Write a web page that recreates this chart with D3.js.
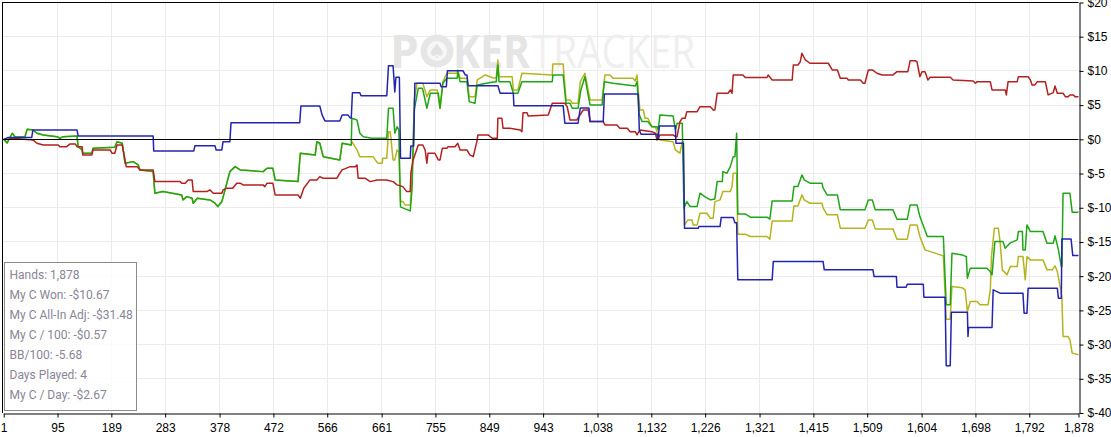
<!DOCTYPE html>
<html>
<head>
<meta charset="utf-8">
<script src="https://cdn.jsdelivr.net/npm/d3@7/dist/d3.min.js"></script>
<style>
html,body{margin:0;padding:0;background:#fff;}
svg{display:block;}
</style>
</head>
<body>
<svg id="chart" width="1111" height="437"></svg>
<script>
// ---------------- DATA ----------------
const xTickValues = [1,95,189,283,378,472,566,661,755,849,943,1038,1132,1226,1321,1415,1509,1604,1698,1792,1878];
const yTickValues = [20,15,10,5,0,-5,-10,-15,-20,-25,-30,-35,-40];

const statsLines = [
  "Hands: 1,878",
  "My C Won: -$10.67",
  "My C All-In Adj: -$31.48",
  "My C / 100: -$0.57",
  "BB/100: -5.68",
  "Days Played: 4",
  "My C / Day: -$2.67"
];

// green: net won
const wonSeries = [[1,0],[7,-0.52],[16,0.89],[21,0.35],[38,0.35],[42,1.48],[52,1.37],[59,0.89],[70,0.64],[94,0.39],[99,0.16],[105,0.39],[129,0.50],[131,-1.07],[138,-1.55],[139,-2.03],[155,-2.03],[157,-1.30],[195,-1.15],[199,-0.34],[208,-0.57],[213,-3.49],[227,-3.26],[236,-3.74],[239,-4.47],[262,-4.72],[265,-7.87],[279,-7.64],[312,-8.12],[314,-8.85],[321,-8.37],[330,-8.61],[332,-9.34],[339,-8.61],[361,-8.85],[370,-9.34],[375,-9.83],[382,-9.10],[396,-4.72],[405,-3.99],[414,-4.47],[454,-4.72],[461,-4.22],[471,-4.22],[475,-5.93],[515,-6.18],[519,-2.03],[545,-2.28],[548,-0.34],[553,-0.57],[559,-2.53],[588,-3.01],[592,-0.57],[608,-0.82],[609,3.08],[618,2.83],[623,0.89],[629,0.39],[644,0.16],[670,0.16],[673,4.54],[681,4.54],[684,0.89],[688,1.85],[691,1.37],[694,-9.88],[702,-10.17],[711,-10.46],[714,-7.39],[718,4.29],[725,7.47],[732,7.47],[733,7.22],[740,4.54],[746,6.73],[760,6.73],[763,4.54],[768,8.20],[775,8.92],[793,8.92],[794,9.89],[798,8.43],[810,8.43],[814,5.51],[824,5.27],[828,7.95],[856,8.39],[861,8.39],[864,10.87],[866,8.43],[885,8.43],[891,6.73],[899,6.73],[906,8.43],[959,8.43],[960,9.41],[978,9.41],[983,5.27],[990,5.27],[994,4.54],[1004,4.54],[1009,7.22],[1016,9.16],[1020,7.22],[1025,5.03],[1046,5.03],[1050,8.43],[1065,8.20],[1104,7.80],[1107,8.43],[1111,3.57],[1116,2.59],[1126,2.59],[1133,1.85],[1142,1.85],[1144,1.37],[1147,3.57],[1170,3.42],[1174,1.37],[1177,2.35],[1186,2.35],[1189,-10.02],[1194,-9.10],[1200,-9.83],[1212,-9.83],[1217,-7.87],[1226,-8.42],[1235,-8.85],[1243,-8.71],[1247,-6.18],[1256,-6.18],[1257,-4.72],[1264,-4.95],[1270,-3.99],[1275,-2.53],[1278,-2.53],[1281,0.89],[1283,-10.90],[1296,-10.90],[1305,-11.38],[1334,-11.38],[1339,-11.67],[1343,-9.00],[1378,-9.00],[1381,-6.91],[1388,-6.91],[1395,-5.20],[1399,-5.93],[1409,-6.41],[1430,-6.41],[1432,-7.14],[1439,-8.12],[1457,-8.12],[1462,-10.31],[1505,-10.31],[1511,-8.85],[1518,-8.85],[1523,-10.31],[1554,-10.31],[1561,-11.67],[1579,-11.67],[1584,-9.58],[1596,-9.58],[1601,-11.29],[1614,-14.21],[1642,-14.21],[1647,-24.19],[1654,-24.19],[1657,-16.64],[1675,-16.89],[1682,-17.14],[1684,-20.29],[1689,-18.83],[1718,-18.83],[1724,-19.33],[1727,-19.81],[1732,-14.94],[1746,-14.94],[1750,-15.91],[1759,-15.13],[1771,-14.70],[1773,-13.48],[1780,-13.48],[1781,-16.16],[1785,-16.16],[1788,-12.51],[1794,-13.48],[1816,-13.48],[1823,-15.18],[1834,-15.18],[1837,-14.11],[1843,-16.16],[1848,-18.60],[1849,-18.60],[1851,-7.87],[1863,-7.87],[1867,-10.65],[1878,-10.67]];

// yellow: all-in adjusted
const allInSeries = [[1,0],[7,-0.52],[16,0.89],[21,0.35],[38,0.35],[42,1.48],[52,1.37],[59,0.89],[70,0.64],[94,0.39],[99,0.16],[105,0.39],[129,0.50],[131,-1.07],[138,-1.55],[139,-2.03],[155,-2.03],[157,-1.30],[195,-1.15],[199,-0.34],[208,-0.57],[213,-3.49],[227,-3.26],[236,-3.74],[239,-4.47],[262,-4.72],[265,-7.87],[279,-7.64],[312,-8.12],[314,-8.85],[321,-8.37],[330,-8.61],[332,-9.34],[339,-8.61],[361,-8.85],[370,-9.34],[375,-9.83],[382,-9.10],[396,-4.72],[405,-3.99],[414,-4.47],[454,-4.72],[461,-4.22],[471,-4.22],[475,-5.93],[515,-6.18],[519,-2.03],[545,-2.28],[548,-0.34],[553,-0.57],[559,-2.53],[588,-3.01],[592,-0.57],[608,-0.82],[609,-0.34],[618,-1.55],[623,-2.53],[646,-2.53],[650,-3.01],[655,-3.49],[662,-3.49],[663,-2.76],[670,-2.76],[673,1.12],[676,1.12],[681,-3.01],[684,-3.01],[688,-1.55],[691,-1.84],[694,-9.10],[698,-9.10],[702,-9.58],[711,-9.58],[714,-5.93],[718,5.76],[723,8.20],[733,8.20],[740,6.24],[746,7.22],[758,7.22],[763,4.54],[768,8.43],[775,9.66],[793,9.66],[794,10.14],[798,8.92],[810,8.92],[814,6.24],[824,6.24],[828,8.68],[842,9.41],[856,8.97],[861,8.97],[864,11.60],[866,9.16],[889,9.16],[891,7.22],[899,7.22],[906,9.66],[959,9.41],[960,11.02],[978,11.02],[983,5.76],[990,5.76],[994,5.27],[1004,5.27],[1008,8.43],[1016,9.66],[1020,7.95],[1025,5.76],[1046,5.76],[1051,9.41],[1060,9.41],[1065,8.92],[1100,8.92],[1104,8.53],[1107,9.41],[1112,4.29],[1118,4.29],[1121,3.08],[1126,3.08],[1133,1.85],[1139,1.85],[1147,-0.09],[1170,-0.34],[1174,-1.55],[1182,-2.03],[1186,-0.34],[1188,-0.34],[1190,-12.51],[1196,-11.78],[1203,-11.78],[1205,-12.51],[1212,-12.51],[1217,-10.80],[1229,-10.80],[1235,-11.53],[1240,-11.53],[1243,-9.10],[1252,-8.85],[1257,-7.64],[1270,-7.64],[1273,-6.91],[1275,-4.95],[1281,-4.95],[1283,-13.86],[1296,-13.86],[1305,-14.21],[1334,-14.21],[1339,-14.59],[1343,-11.92],[1378,-11.92],[1381,-9.73],[1388,-9.73],[1395,-8.12],[1399,-8.85],[1409,-9.34],[1430,-9.34],[1432,-10.02],[1439,-11.04],[1457,-11.04],[1462,-12.99],[1505,-12.99],[1511,-11.78],[1518,-11.78],[1523,-13.09],[1554,-13.09],[1561,-14.59],[1579,-14.59],[1584,-12.51],[1596,-12.51],[1601,-14.21],[1610,-16.16],[1642,-17.03],[1647,-26.28],[1654,-26.28],[1657,-21.52],[1675,-21.71],[1680,-22.00],[1684,-25.17],[1689,-23.71],[1701,-23.71],[1706,-24.19],[1720,-24.19],[1724,-22.00],[1726,-17.14],[1731,-12.99],[1738,-12.99],[1741,-14.94],[1745,-19.08],[1753,-19.81],[1759,-18.60],[1771,-18.60],[1773,-17.14],[1781,-17.14],[1785,-20.54],[1788,-17.14],[1794,-17.62],[1816,-17.62],[1823,-19.08],[1832,-19.08],[1837,-18.50],[1841,-19.33],[1846,-21.52],[1849,-23.10],[1851,-28.82],[1860,-28.82],[1863,-29.31],[1867,-31.25],[1878,-31.48]];

// red: non-showdown
const nonShowdownSeries = [[1,0],[12,0.06],[16,0.16],[42,-0.04],[52,-0.09],[59,-0.57],[70,-0.82],[96,-0.82],[99,-1.07],[111,-1.07],[117,-0.67],[126,-0.67],[129,-1.07],[138,-1.07],[139,-2.28],[155,-2.28],[157,-1.55],[187,-1.55],[190,-2.03],[195,-2.03],[199,-0.82],[208,-0.82],[215,-3.99],[234,-3.99],[239,-4.47],[262,-4.47],[265,-6.18],[309,-6.18],[312,-6.41],[318,-6.41],[323,-5.93],[330,-5.93],[332,-7.64],[356,-7.64],[361,-7.39],[367,-7.87],[382,-7.87],[384,-7.39],[391,-7.14],[401,-7.14],[408,-6.41],[414,-6.41],[419,-6.66],[454,-6.66],[457,-6.91],[461,-6.41],[471,-6.41],[475,-8.12],[515,-8.12],[519,-8.61],[525,-7.14],[536,-5.93],[548,-5.93],[553,-5.45],[559,-5.68],[583,-5.68],[588,-4.95],[592,-4.47],[606,-3.99],[615,-3.99],[618,-3.74],[620,-5.68],[632,-5.68],[641,-6.18],[653,-5.93],[670,-5.93],[681,-6.18],[688,-6.66],[698,-6.91],[705,-7.64],[711,-7.64],[712,-4.95],[716,-3.01],[725,-0.82],[733,-0.82],[737,-1.55],[740,-3.49],[742,-2.03],[754,-2.03],[760,-3.01],[763,-3.01],[767,-1.30],[775,-1.30],[777,-1.07],[789,-1.07],[794,-0.57],[798,-1.55],[810,-1.55],[815,-2.28],[821,-2.53],[828,-0.09],[829,0.64],[847,0.64],[854,0.16],[863,0.16],[864,3.08],[871,3.08],[873,1.62],[885,1.62],[903,1.37],[906,1.12],[908,3.90],[915,3.90],[917,3.42],[952,3.57],[959,5.27],[981,5.27],[985,4.78],[990,2.83],[1002,2.83],[1013,4.29],[1022,4.29],[1025,2.59],[1048,2.59],[1051,2.10],[1072,2.10],[1077,1.62],[1090,1.62],[1095,1.12],[1104,1.12],[1107,0.64],[1112,1.37],[1133,1.12],[1139,0.89],[1142,-0.09],[1147,0.64],[1170,0.64],[1174,0.39],[1177,0.39],[1182,2.59],[1186,3.08],[1191,3.08],[1194,4.05],[1212,4.05],[1217,4.78],[1235,4.78],[1240,4.29],[1243,4.29],[1247,6.73],[1266,6.73],[1270,7.22],[1273,6.73],[1275,9.41],[1292,9.41],[1296,9.04],[1334,9.04],[1336,9.41],[1343,8.68],[1378,8.68],[1380,10.87],[1388,10.87],[1392,11.31],[1395,12.58],[1401,11.60],[1409,11.12],[1441,11.12],[1448,10.14],[1457,10.14],[1462,8.92],[1474,8.92],[1476,8.68],[1497,8.68],[1502,8.20],[1505,8.20],[1511,10.14],[1518,10.14],[1526,9.66],[1535,9.41],[1554,9.41],[1561,9.89],[1580,9.89],[1584,11.50],[1593,11.50],[1596,11.31],[1601,9.16],[1605,9.89],[1610,9.89],[1615,8.68],[1619,9.07],[1654,9.07],[1659,8.68],[1694,8.53],[1698,8.20],[1701,8.43],[1724,8.43],[1727,7.22],[1750,7.22],[1752,6.49],[1755,8.43],[1771,8.43],[1773,9.16],[1790,9.16],[1794,8.68],[1797,7.95],[1802,7.95],[1806,8.43],[1820,8.43],[1825,6.49],[1834,6.82],[1837,7.80],[1841,6.73],[1851,6.73],[1855,6.24],[1860,6.24],[1863,6.49],[1869,6.49],[1872,6.24],[1878,6.24]];

// blue: showdown
const showdownSeries = [[1,0],[9,0.28],[50,0.28],[52,1.37],[129,1.37],[131,0.50],[262,0.50],[263,-1.69],[333,-1.69],[335,-0.92],[370,-0.92],[372,-1.55],[382,-1.55],[384,-0.34],[396,-0.34],[398,2.44],[518,2.44],[520,4.88],[553,4.88],[557,3.57],[562,2.69],[588,2.69],[592,3.57],[602,3.57],[606,3.13],[608,3.13],[610,6.82],[623,6.82],[625,6.38],[670,6.38],[673,10.77],[681,10.77],[684,6.92],[686,9.07],[692,9.07],[694,-2.76],[711,-2.76],[712,-0.96],[717,-0.96],[719,8.20],[763,8.20],[765,7.70],[774,7.70],[776,10.04],[803,10.04],[807,9.41],[810,9.41],[812,7.85],[864,7.85],[868,6.73],[891,6.73],[892,4.92],[978,4.92],[981,2.35],[1004,2.35],[1008,4.59],[1023,4.59],[1025,2.59],[1048,2.59],[1050,6.63],[1109,6.63],[1111,1.37],[1114,0.74],[1142,0.74],[1144,0.02],[1146,1.96],[1174,1.96],[1175,-0.57],[1188,-0.57],[1190,-12.99],[1214,-12.99],[1215,-12.75],[1252,-12.75],[1254,-11.44],[1275,-11.44],[1278,-12.21],[1281,-12.21],[1283,-20.54],[1343,-20.54],[1345,-17.87],[1432,-17.87],[1434,-19.08],[1519,-19.08],[1521,-20.06],[1560,-20.06],[1561,-21.61],[1577,-21.61],[1579,-21.17],[1607,-21.17],[1608,-23.07],[1645,-23.07],[1647,-33.10],[1654,-33.10],[1656,-25.26],[1684,-25.26],[1685,-28.82],[1686,-27.51],[1727,-27.51],[1729,-22.00],[1741,-22.48],[1781,-22.48],[1783,-25.41],[1788,-25.41],[1790,-21.75],[1841,-21.75],[1843,-23.21],[1848,-23.21],[1849,-14.55],[1865,-14.55],[1868,-16.99],[1878,-16.99]];

// ---------------- DRAW ----------------
const svg = d3.select("#chart");
const plotLeft = 3.7, plotRight = 1078.5, plotTop = 2.5, plotBottom = 413;

const x = d3.scaleLinear().domain([1, 1878]).range([plotLeft, plotRight]);
const y = d3.scaleLinear().domain([-40, 20]).range([plotBottom, plotTop]);
const snap = v => Math.round(v) + 0.5;

// grid
const grid = svg.append("g");
grid.selectAll("line.h").data(yTickValues.filter(v => v !== 20 && v !== -40 && v !== 0)).join("line")
  .attr("x1", 2.5).attr("x2", plotRight).attr("y1", d => snap(y(d) - 0.5)).attr("y2", d => snap(y(d) - 0.5))
  .attr("stroke", "#ebebeb").attr("stroke-width", 1);
grid.selectAll("line.v").data(xTickValues.slice(1, -1)).join("line")
  .attr("x1", d => snap(x(d) - 0.5)).attr("x2", d => snap(x(d) - 0.5)).attr("y1", 2.5).attr("y2", plotBottom)
  .attr("stroke", "#ebebeb").attr("stroke-width", 1);

// watermark
const wm = svg.append("g").attr("fill", "#e5e5e5").style("font-family", "'Open Sans', 'DejaVu Sans', sans-serif");
wm.append("text").attr("x", 390).attr("y", 68).style("font-size", "46px").style("font-weight", "700").text("P");
wm.append("circle").attr("cx", 437).attr("cy", 51).attr("r", 16.5).attr("fill", "#e6e6e6");
wm.append("circle").attr("cx", 437).attr("cy", 51).attr("r", 10).attr("fill", "#f7f7f7");
wm.append("text").attr("x", 437).attr("y", 58).attr("text-anchor", "middle").style("font-size", "20px").attr("fill", "#e2e2e2").text("\u2660");
wm.append("text").attr("x", 453).attr("y", 68).style("font-size", "46px").style("font-weight", "700")
  .attr("textLength", 77).attr("lengthAdjust", "spacingAndGlyphs").text("KER");
wm.append("text").attr("x", 532).attr("y", 68).style("font-size", "46px").style("font-weight", "400").attr("fill", "#efefef")
  .attr("textLength", 163).attr("lengthAdjust", "spacingAndGlyphs").text("TRACKER");

// series lines
const line = d3.line().x(d => x(d[0])).y(d => y(d[1]));
const series = [
  {data: allInSeries, color: "#b4b420"},
  {data: wonSeries, color: "#20a516"},
  {data: nonShowdownSeries, color: "#b32020"},
  {data: showdownSeries, color: "#2424b0"}
];
svg.append("g").selectAll("path").data(series).join("path")
  .attr("d", d => line(d.data))
  .attr("fill", "none").attr("stroke", d => d.color).attr("stroke-width", 1.5)
  .attr("stroke-linejoin", "round");

// zero line
svg.append("line").attr("x1", 2.5).attr("x2", plotRight).attr("y1", snap(y(0) - 0.5)).attr("y2", snap(y(0) - 0.5))
  .attr("stroke", "#000").attr("stroke-width", 1);

// frame
svg.append("line").attr("x1", 2.5).attr("x2", 2.5).attr("y1", 2).attr("y2", plotBottom).attr("stroke", "#000");
svg.append("line").attr("x1", 2).attr("x2", plotRight).attr("y1", 2.5).attr("y2", 2.5).attr("stroke", "#000");

// axes
const fmt = d3.format(",");
const xAxis = d3.axisBottom(x).tickValues(xTickValues).tickFormat(fmt).tickSize(4).tickSizeOuter(0);
const gx = svg.append("g").attr("transform", `translate(0,${Math.round(plotBottom) + 0.5})`).call(xAxis);
gx.select(".domain").attr("stroke", "#000");
gx.selectAll(".tick line").attr("stroke", "#000");
gx.selectAll(".tick text").attr("fill", "#000").attr("dy", "0.95em")
  .style("font-family", "'Liberation Sans', Arial, sans-serif").style("font-size", "12px");

const yAxis = d3.axisRight(y).tickValues(yTickValues).tickFormat(d => "$" + d).tickSize(4).tickSizeOuter(0).tickPadding(4);
const gy = svg.append("g").attr("transform", `translate(${Math.round(plotRight) + 0.5},0)`).call(yAxis);
gy.select(".domain").attr("stroke", "#000");
gy.selectAll(".tick line").attr("stroke", "#000");
gy.selectAll(".tick text").attr("fill", "#000")
  .style("font-family", "'Liberation Sans', Arial, sans-serif").style("font-size", "12px");

// stats box
const box = svg.append("g");
box.append("rect").attr("x", 4.5).attr("y", 262.5).attr("width", 132).attr("height", 148)
  .attr("fill", "#fff").attr("fill-opacity", 0.85).attr("stroke", "#8a8a8a").attr("stroke-width", 1);
box.selectAll("text").data(statsLines).join("text")
  .attr("x", 9.5).attr("y", (d, i) => 279 + i * 20)
  .attr("fill", "#8a8496")
  .style("font-family", "Roboto, 'Open Sans', sans-serif").style("font-size", "12px")
  .text(d => d);
</script>
